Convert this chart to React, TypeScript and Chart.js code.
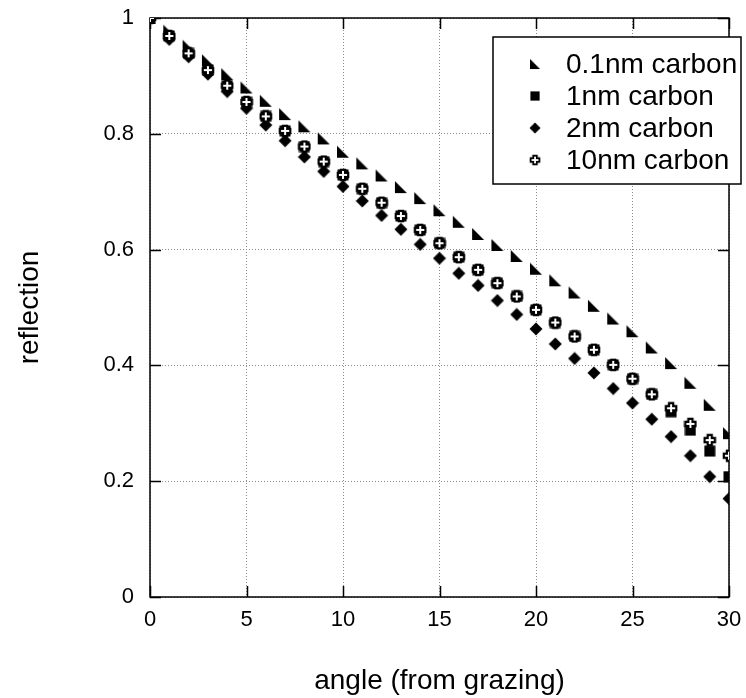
import React, { useEffect, useRef } from 'react';
import { Chart, registerables } from 'chart.js';

Chart.register(...registerables);

const angles = [0, 1, 2, 3, 4, 5, 6, 7, 8, 9, 10, 11, 12, 13, 14, 15, 16, 17, 18, 19, 20, 21, 22, 23, 24, 25, 26, 27, 28, 29, 30];
const carbon01 = [1.0, 0.978, 0.952, 0.927, 0.903, 0.88, 0.857, 0.834, 0.813, 0.792, 0.769, 0.749, 0.728, 0.708, 0.689, 0.668, 0.648, 0.627, 0.608, 0.589, 0.567, 0.547, 0.526, 0.503, 0.481, 0.459, 0.431, 0.404, 0.37, 0.332, 0.283];
const carbon1 = [1.0, 0.969, 0.939, 0.91, 0.883, 0.855, 0.83, 0.805, 0.778, 0.752, 0.729, 0.705, 0.681, 0.658, 0.634, 0.611, 0.587, 0.565, 0.542, 0.519, 0.496, 0.474, 0.45, 0.427, 0.401, 0.377, 0.35, 0.32, 0.288, 0.252, 0.208];
const carbon2 = [1.0, 0.963, 0.933, 0.903, 0.873, 0.844, 0.815, 0.788, 0.76, 0.735, 0.709, 0.684, 0.659, 0.635, 0.609, 0.585, 0.559, 0.538, 0.512, 0.488, 0.463, 0.437, 0.412, 0.387, 0.36, 0.335, 0.307, 0.277, 0.244, 0.208, 0.17];
const carbon10 = [1.0, 0.969, 0.939, 0.91, 0.883, 0.855, 0.83, 0.805, 0.778, 0.752, 0.729, 0.705, 0.681, 0.658, 0.634, 0.611, 0.587, 0.565, 0.542, 0.519, 0.496, 0.474, 0.45, 0.427, 0.401, 0.377, 0.35, 0.326, 0.299, 0.271, 0.244];
const seriesLabels = ['0.1nm carbon', '1nm carbon', '2nm carbon', '10nm carbon'];
const xTicks = [0, 5, 10, 15, 20, 25, 30];
const yTicks = [0, 0.2, 0.4, 0.6, 0.8, 1];

const FONT = "'Liberation Sans', Arial, sans-serif";

function makeMarker(kind: string): HTMLCanvasElement {
  const c = document.createElement('canvas');
  const s = kind === 'square' ? 12 : 14;
  c.width = s;
  c.height = s;
  const g = c.getContext('2d')!;
  g.fillStyle = '#000';
  if (kind === 'triangle') {
    g.beginPath();
    g.moveTo(1, 1);
    g.lineTo(1, 13);
    g.lineTo(13, 13);
    g.closePath();
    g.fill();
  } else if (kind === 'square') {
    g.fillRect(0.5, 0.5, 11, 11);
  } else if (kind === 'diamond') {
    g.beginPath();
    g.moveTo(7, 0.5);
    g.lineTo(13.5, 7);
    g.lineTo(7, 13.5);
    g.lineTo(0.5, 7);
    g.closePath();
    g.fill();
  } else {
    const cx = 7, a = 2.1, L = 5.2;
    g.beginPath();
    g.moveTo(cx - a, cx - L);
    g.lineTo(cx + a, cx - L);
    g.lineTo(cx + a, cx - a);
    g.lineTo(cx + L, cx - a);
    g.lineTo(cx + L, cx + a);
    g.lineTo(cx + a, cx + a);
    g.lineTo(cx + a, cx + L);
    g.lineTo(cx - a, cx + L);
    g.lineTo(cx - a, cx + a);
    g.lineTo(cx - L, cx + a);
    g.lineTo(cx - L, cx - a);
    g.lineTo(cx - a, cx - a);
    g.closePath();
    g.fillStyle = '#fff';
    g.fill();
    g.strokeStyle = '#000';
    g.lineWidth = 2.2;
    g.stroke();
  }
  return c;
}

const framePlugin = {
  id: 'frameTicks',
  beforeDatasetsDraw(chart: any) {
    const { ctx, chartArea: a, scales } = chart;
    const L = 11;
    ctx.save();
    ctx.strokeStyle = '#000';
    ctx.lineWidth = 1.5;
    ctx.beginPath();
    xTicks.forEach((v) => {
      const px = Math.round(scales.x.getPixelForValue(v)) + 0.5;
      ctx.moveTo(px, a.bottom);
      ctx.lineTo(px, a.bottom - L);
      ctx.moveTo(px, a.top);
      ctx.lineTo(px, a.top + L);
    });
    yTicks.forEach((v) => {
      const py = Math.round(scales.y.getPixelForValue(v)) + 0.5;
      ctx.moveTo(a.left, py);
      ctx.lineTo(a.left + L, py);
      ctx.moveTo(a.right, py);
      ctx.lineTo(a.right - L, py);
    });
    ctx.stroke();
    ctx.strokeRect(a.left, a.top, a.right - a.left, a.bottom - a.top);
    ctx.restore();
  },
  afterDraw(chart: any) {
    const { ctx } = chart;
    const bx = 493, by = 37, bw = 248, bh = 147;
    ctx.save();
    ctx.fillStyle = '#fff';
    ctx.fillRect(bx, by, bw, bh);
    ctx.strokeStyle = '#000';
    ctx.lineWidth = 1.5;
    ctx.strokeRect(bx, by, bw, bh);
    const rows = [64, 96, 128, 160];
    ctx.font = `28px ${FONT}`;
    ctx.fillStyle = '#000';
    ctx.textAlign = 'left';
    ctx.textBaseline = 'middle';
    chart.data.datasets.forEach((ds: any, i: number) => {
      const img = ds.pointStyle as HTMLCanvasElement;
      const s = 0.85;
      ctx.drawImage(img, 535 - (img.width * s) / 2, rows[i] - (img.height * s) / 2, img.width * s, img.height * s);
      ctx.fillText(ds.label, 566, rows[i] + 1);
    });
    ctx.restore();
  },
};

export default function App() {
  const ref = useRef<HTMLCanvasElement | null>(null);
  useEffect(() => {
    if (!ref.current) return;
    const markers = [makeMarker('triangle'), makeMarker('square'), makeMarker('diamond'), makeMarker('cross')];
    const series = [carbon01, carbon1, carbon2, carbon10];
    const orders = [3, 1, 2, 0];
    const chart = new Chart(ref.current, {
      type: 'scatter',
      data: {
        datasets: series.map((vals, i) => ({
          label: seriesLabels[i],
          data: angles.map((x, j) => ({ x, y: vals[j] })),
          pointStyle: markers[i] as any,
          pointRadius: 6,
          showLine: false,
          order: orders[i],
          backgroundColor: '#000',
          borderColor: '#000',
        })),
      },
      options: {
        animation: false,
        responsive: false,
        events: [],
        layout: { padding: { left: 0, right: 17, top: 18, bottom: 0 } },
        plugins: { legend: { display: false }, tooltip: { enabled: false } },
        scales: {
          x: {
            type: 'linear',
            min: 0,
            max: 30,
            afterFit: (s: any) => { s.height = 101; s.paddingLeft = 0; s.paddingRight = 0; },
            afterBuildTicks: (s: any) => { s.ticks = xTicks.map((v) => ({ value: v })); },
            ticks: { color: '#000', padding: 10, font: { family: FONT, size: 22 }, callback: (v: any) => String(v) },
            grid: { color: '#8a8a8a', lineWidth: 1, drawTicks: false },
            border: { display: false, dash: [1, 2] },
            title: { display: true, text: 'angle (from grazing)', color: '#000', font: { family: FONT, size: 28 }, padding: { top: 0, bottom: 0 } },
          },
          y: {
            type: 'linear',
            min: 0,
            max: 1,
            afterFit: (s: any) => { s.width = 150; s.paddingTop = 0; s.paddingBottom = 0; },
            afterBuildTicks: (s: any) => { s.ticks = yTicks.map((v) => ({ value: v })); },
            ticks: { color: '#000', padding: 16, font: { family: FONT, size: 22 }, callback: (v: any) => String(Math.round(v * 10) / 10) },
            grid: { color: '#8a8a8a', lineWidth: 1, drawTicks: false },
            border: { display: false, dash: [1, 2] },
            title: { display: true, text: 'reflection', color: '#000', font: { family: FONT, size: 28 }, padding: { top: 13, bottom: 0 } },
          },
        },
      },
      plugins: [framePlugin],
    });
    return () => chart.destroy();
  }, []);
  return (
    <div style={{ position: 'fixed', left: 0, top: 0, width: 746, height: 698, background: '#fff' }}>
      <canvas ref={ref} width={746} height={698} style={{ display: 'block', width: 746, height: 698 }} />
    </div>
  );
}
